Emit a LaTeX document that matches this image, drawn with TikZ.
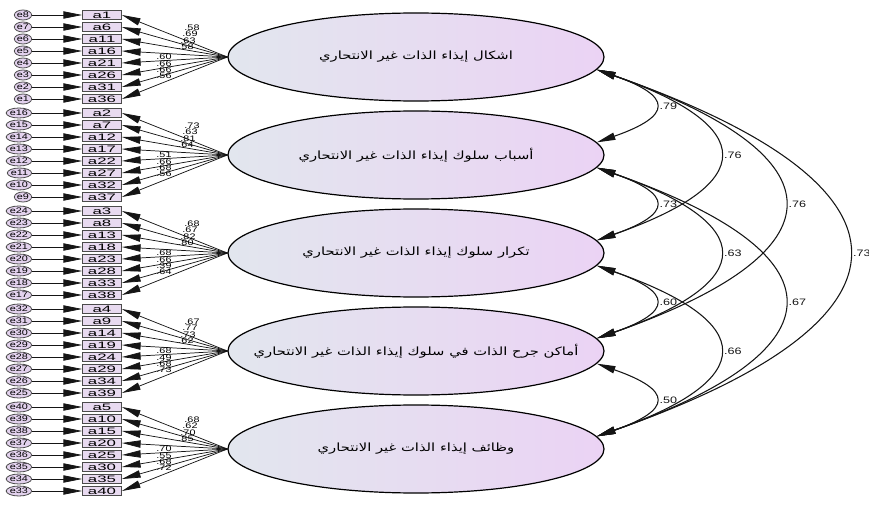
\documentclass[tikz,border=0pt]{standalone}
\usepackage{fontspec}
\setmainfont{Liberation Sans}
\newfontfamily\itemfont[FakeStretch=1.8]{Liberation Sans}
\newfontfamily\coeffont[FakeStretch=1.35]{Liberation Sans}
\newfontfamily\arabicfont[Script=Arabic, FakeStretch=1.3]{DejaVu Sans}
\TeXXeTstate=1
\usepackage{tikz}
\usetikzlibrary{arrows.meta, positioning, shapes.geometric}
\usepackage{xcolor}
\definecolor{FactorLeft}{HTML}{E2E6EE}
\definecolor{FactorRight}{HTML}{EBD3F4}
\definecolor{ItemFill}{HTML}{E8DAF0}
\definecolor{ErrorFill}{HTML}{E3D2EE}
\definecolor{EdgeGray}{HTML}{4B4B4B}
\definecolor{PathBlack}{HTML}{151515}
% factor names keep the ellipse at its fixed size
\newcommand{\factorname}[1]{\makebox[0pt]{\beginR #1\endR}}
\tikzset{%
  factor/.style={%
    ellipse,%
    draw=black,%
    line width=0.9pt,%
    minimum width=282pt,%
    minimum height=66pt,%
    left color=FactorLeft,%
    right color=FactorRight,%
    font={\arabicfont\fontsize{8.5}{9}\selectfont},%
  },
  item/.style={%
    rectangle,%
    draw=EdgeGray,%
    line width=0.9pt,%
    fill=ItemFill,%
    minimum width=29pt,%
    minimum height=7pt,%
    inner sep=0pt,%
    font={\itemfont\fontsize{7}{7}\selectfont},%
  },
  error/.style={%
    ellipse,%
    draw=EdgeGray,%
    line width=0.6pt,%
    fill=ErrorFill,%
    minimum width=13pt,%
    minimum height=7.5pt,%
    inner sep=0pt,%
    font={\coeffont\fontsize{6}{6}\selectfont},%
  },
  signal/.style={%
    color=PathBlack,%
    line width=0.55pt,%
    line join=round,%
  },
  cov_path/.style={%
    color=PathBlack,%
    line width=0.8pt,%
  },
  coef/.style={%
    inner sep=0pt,%
    font={\coeffont\fontsize{6}{6}\selectfont},%
  },
  covcoef/.style={%
    inner sep=0pt,%
    font={\coeffont\fontsize{7}{7}\selectfont},%
  },
  arrow/.style={-{Triangle[length=14pt, width=5.5pt]}},
  twoway/.style={{Triangle[length=14pt, width=5.5pt]}-{Triangle[length=14pt, width=5.5pt]}},
}

\begin{document}
\begin{tikzpicture}[x=0.75pt, y=-0.75pt]
  \useasboundingbox (0,0) rectangle (869,528);

  % latent factors
  \node [factor] (F1) at (416,57) {\factorname{اشكال إيذاء الذات غير الانتحاري}};
  \node [factor] (F2) at (416,155) {\factorname{أسباب سلوك إيذاء الذات غير الانتحاري}};
  \node [factor] (F3) at (416,253) {\factorname{تكرار سلوك إيذاء الذات غير الانتحاري}};
  \node [factor] (F4) at (416,351) {\factorname{أماكن جرح الذات في سلوك إيذاء الذات غير الانتحاري}};
  \node [factor] (F5) at (416,449) {\factorname{وظائف إيذاء الذات غير الانتحاري}};

  % items, errors, loadings
  \foreach \g/\vals in {%
      1/{.58,.69,.63,.58,.60,.66,.66,.56},%
      2/{.73,.63,.81,.64,.51,.66,.68,.56},%
      3/{.68,.67,.82,.80,.68,.66,.39,.64},%
      4/{.67,.77,.73,.62,.68,.49,.68,.73},%
      5/{.68,.62,.70,.85,.70,.55,.68,.72}} {
    \pgfmathsetmacro{\cy}{57+98*(\g-1)}
    \foreach \v [count=\i from 0] in \vals {
      \pgfmathtruncatemacro{\n}{\g+5*\i}
      \pgfmathtruncatemacro{\m}{8*\g-\i}
      \pgfmathsetmacro{\lx}{\i<4 ? 192-2*\i : 164}
      \pgfmathsetmacro{\ly}{\i<4 ? \cy-29+6.2*\i : \cy-25.2+6.3*\i}
      \node [item] (a\n) at (102,\cy-42+12*\i) {a\n};
      \node [error, left=37.5pt of a\n] (e\m) {e\m};
      \draw [signal, arrow] (e\m) -- (a\n);
      \draw [signal, arrow] (F\g.west) -- (a\n.east);
      \node [coef] (l\n) at (\lx,\ly) {\v};
    }
  }

  % correlations between factors
  \foreach \p/\q/\r in {1/2/.79, 2/3/.73, 3/4/.60, 4/5/.50, 1/3/.76,
      2/4/.63, 3/5/.66, 1/4/.76, 2/5/.67, 1/5/.73} {
    \pgfmathsetmacro{\dx}{86*(\q-\p)-10}
    \pgfmathsetmacro{\dy}{0.35*\dx}
    \draw [cov_path, twoway]
      (F\p.-4) .. controls +(\dx,\dy) and +(\dx,-\dy) .. (F\q.4)
      node [covcoef, pos=0.5, right=4pt] (r\p\q) {\r};
  }
\end{tikzpicture}
\end{document}
